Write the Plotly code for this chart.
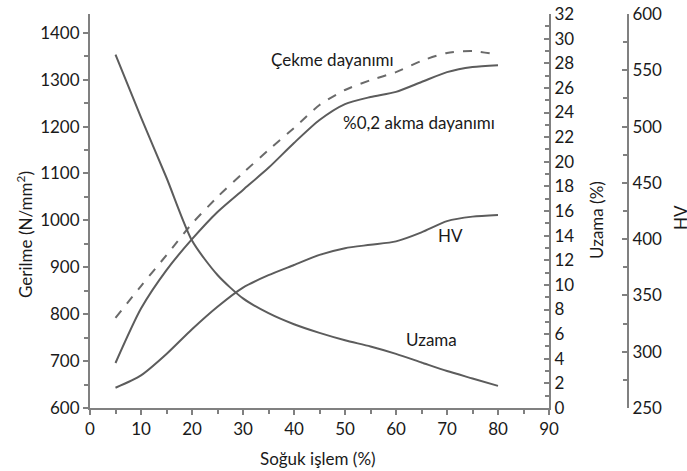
import plotly.graph_objects as go

# Data
cold_work = [5, 10, 15, 20, 25, 30, 35, 40, 45, 50, 55, 60, 65, 70, 75, 80]
tensile = [792, 860, 926, 993, 1050, 1101, 1150, 1197, 1246, 1278, 1299, 1316, 1340, 1357, 1361, 1353]
yield_02 = [696, 812, 894, 960, 1018, 1065, 1112, 1165, 1214, 1248, 1263, 1274, 1295, 1316, 1327, 1331]
elongation = [28.7, 23.6, 18.7, 13.6, 10.8, 8.9, 7.7, 6.8, 6.1, 5.5, 5.0, 4.4, 3.7, 3.0, 2.4, 1.8]
hardness = [268, 279, 298, 320, 340, 357, 368, 377, 386, 392, 395, 398, 406, 416, 420, 421.5]

FONT = "Lato"
TXT = "#1a1a1a"
LINE = "#5c5c5c"
AX = "#808080"

# Page body margin is removed (see post_script), so figure px = screen px.
W, H = 687, 471
L, T = 90, 14
PLOT_R, PLOT_B = 549, 408     # end of x domain / bottom of plot
PAPER_R = 640
HV_X = 628

fig = go.Figure()
fig.add_trace(go.Scatter(x=cold_work, y=tensile, mode="lines", yaxis="y",
                         line=dict(color="#6a6a6a", width=2, dash="dash", shape="spline", smoothing=0.7)))
fig.add_trace(go.Scatter(x=cold_work, y=yield_02, mode="lines", yaxis="y",
                         line=dict(color=LINE, width=2, shape="spline", smoothing=0.7)))
fig.add_trace(go.Scatter(x=cold_work, y=elongation, mode="lines", yaxis="y2",
                         line=dict(color=LINE, width=2, shape="spline", smoothing=0.7)))
fig.add_trace(go.Scatter(x=cold_work, y=hardness, mode="lines", yaxis="y3",
                         line=dict(color=LINE, width=2, shape="spline", smoothing=0.7)))

tickfont = dict(family=FONT, size=17, color=TXT)
PW = PAPER_R - L
PH = PLOT_B - T
xdom_end = (PLOT_R - L) / PW

def px_x(sx):
    return (sx - L) / PW

def px_y(sy):
    return (PLOT_B - sy) / PH

common = dict(showline=True, linecolor=AX, linewidth=2, showgrid=False, zeroline=False,
              ticklen=5, tickwidth=1.5, tickcolor=AX, automargin=False,
              ticklabeloverflow="allow", tickfont=tickfont)

fig.update_layout(
    width=W, height=H,
    margin=dict(l=L, r=W - PAPER_R, t=T, b=H - PLOT_B, autoexpand=False),
    paper_bgcolor="white", plot_bgcolor="white",
    showlegend=False,
    font=dict(family=FONT, size=17, color=TXT),
    xaxis=dict(domain=[0, xdom_end], range=[0, 90], dtick=10, tick0=0, ticks="outside",
               minor=dict(dtick=5, ticks="outside", ticklen=4, tickcolor=AX, showgrid=False),
               **common),
    yaxis=dict(range=[600, 1440], dtick=100, tick0=600, ticks="outside",
               minor=dict(dtick=50, ticks="outside", ticklen=4, tickcolor=AX, showgrid=False),
               **common),
    yaxis2=dict(range=[0, 32], dtick=2, tick0=0, overlaying="y", side="right", anchor="x",
                ticks="inside",
                minor=dict(dtick=1, ticks="inside", ticklen=4, tickcolor=AX, showgrid=False),
                **common),
    yaxis3=dict(range=[250, 600], dtick=50, tick0=250, overlaying="y", side="right",
                anchor="free", position=(HV_X - L) / PW, ticks="inside",
                minor=dict(dtick=25, ticks="inside", ticklen=4, tickcolor=AX, showgrid=False),
                **common),
)

ann_font = dict(family=FONT, size=17, color=TXT)
C = dict(showarrow=False, font=ann_font, xanchor="center", yanchor="middle")
# Curve labels
fig.add_annotation(x=47.5, y=1344, xref="x", yref="y", text="Çekme dayanımı", **C)
fig.add_annotation(x=64.5, y=1208, xref="x", yref="y", text="%0,2 akma dayanımı", **C)
fig.add_annotation(x=70.6, y=967, xref="x", yref="y", text="HV", **C)
fig.add_annotation(x=66.9, y=745, xref="x", yref="y", text="Uzama", **C)
# Axis titles (screen positions)
fig.add_annotation(x=px_x(25), y=px_y(235), xref="paper", yref="paper",
                   text="Gerilme (N/mm<sup>2</sup>)", textangle=-90, **C)
fig.add_annotation(x=px_x(596), y=px_y(220), xref="paper", yref="paper",
                   text="Uzama (%)", textangle=-90, **C)
fig.add_annotation(x=px_x(680), y=px_y(218), xref="paper", yref="paper",
                   text="HV", textangle=-90, **C)
fig.add_annotation(x=px_x(318), y=px_y(458), xref="paper", yref="paper",
                   text="Soğuk işlem (%)", **C)

fig.write_html("out.html", config={"displayModeBar": False},
               post_script="document.body.style.margin='0';document.body.style.overflow='hidden';")
